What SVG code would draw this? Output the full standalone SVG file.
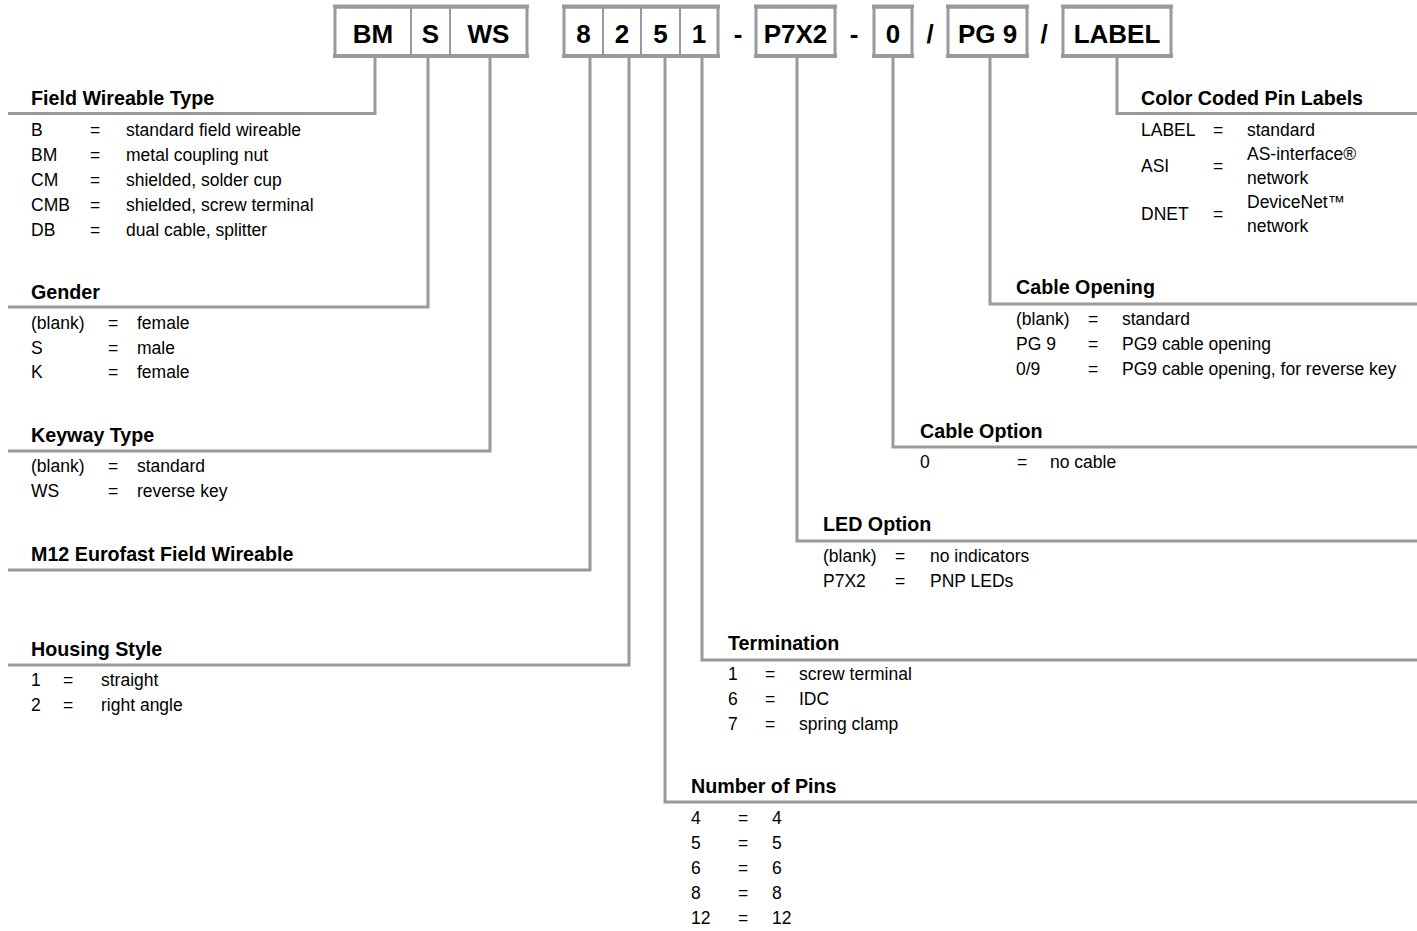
<svg xmlns="http://www.w3.org/2000/svg" width="1417" height="931" viewBox="0 0 1417 931">
<style>
.ln{fill:none;stroke:#9a9a9a;stroke-width:3}
.bx{fill:#fff;stroke:#9a9a9a;stroke-width:3}
.bar{stroke:#9a9a9a;stroke-width:4}
.dv{stroke:#9a9a9a;stroke-width:2}
.bt{font-family:"Liberation Sans",Arial,sans-serif;font-weight:bold;font-size:26px;text-anchor:middle;fill:#000}
.h{font-family:"Liberation Sans",Arial,sans-serif;font-weight:bold;font-size:19.7px;fill:#000}
.t{font-family:"Liberation Sans",Arial,sans-serif;font-size:17.5px;fill:#000}
</style>
<rect width="1417" height="931" fill="#fff"/>
<g id="connectors">
<path class="ln" d="M375 56V113.5H8"/>
<path class="ln" d="M428 56V307H8"/>
<path class="ln" d="M490 56V451H8"/>
<path class="ln" d="M590 56V570H8"/>
<path class="ln" d="M629 56V665H8"/>
<path class="ln" d="M665 56V802H1417"/>
<path class="ln" d="M702 56V660H1417"/>
<path class="ln" d="M797 56V541H1417"/>
<path class="ln" d="M893 56V447H1417"/>
<path class="ln" d="M990 56V304H1417"/>
<path class="ln" d="M1117 56V113.5H1417"/>
</g>
<g id="code">
<g id="box-bmsws">
<rect class="bx" x="335" y="7" width="192" height="49"/>
<line class="bar" x1="333" y1="6.5" x2="529" y2="6.5"/>
<line class="bar" x1="333" y1="56" x2="529" y2="56"/>
<line class="dv" x1="411" y1="7" x2="411" y2="56"/>
<line class="dv" x1="450" y1="7" x2="450" y2="56"/>
<text class="bt" x="373" y="43">BM</text>
<text class="bt" x="430.5" y="43">S</text>
<text class="bt" x="488.5" y="43">WS</text>
</g>
<g id="box-digits">
<rect class="bx" x="564" y="7" width="154" height="49"/>
<line class="bar" x1="562" y1="6.5" x2="720" y2="6.5"/>
<line class="bar" x1="562" y1="56" x2="720" y2="56"/>
<line class="dv" x1="603" y1="7" x2="603" y2="56"/>
<line class="dv" x1="641" y1="7" x2="641" y2="56"/>
<line class="dv" x1="680" y1="7" x2="680" y2="56"/>
<text class="bt" x="583.5" y="43">8</text>
<text class="bt" x="622" y="43">2</text>
<text class="bt" x="660.5" y="43">5</text>
<text class="bt" x="699" y="43">1</text>
</g>
<text class="bt" x="738" y="43">-</text>
<g id="box-p7x2">
<rect class="bx" x="756" y="7" width="79" height="49"/>
<line class="bar" x1="754" y1="6.5" x2="837" y2="6.5"/>
<line class="bar" x1="754" y1="56" x2="837" y2="56"/>
<text class="bt" x="795.5" y="43">P7X2</text>
</g>
<text class="bt" x="854" y="43">-</text>
<g id="box-0">
<rect class="bx" x="874" y="7" width="38" height="49"/>
<line class="bar" x1="872" y1="6.5" x2="914" y2="6.5"/>
<line class="bar" x1="872" y1="56" x2="914" y2="56"/>
<text class="bt" x="893" y="43">0</text>
</g>
<text class="bt" x="930" y="43">/</text>
<g id="box-pg9">
<rect class="bx" x="948" y="7" width="79" height="49"/>
<line class="bar" x1="946" y1="6.5" x2="1029" y2="6.5"/>
<line class="bar" x1="946" y1="56" x2="1029" y2="56"/>
<text class="bt" x="987.5" y="43">PG 9</text>
</g>
<text class="bt" x="1044" y="43">/</text>
<g id="box-label">
<rect class="bx" x="1063" y="7" width="108" height="49"/>
<line class="bar" x1="1061" y1="6.5" x2="1173" y2="6.5"/>
<line class="bar" x1="1061" y1="56" x2="1173" y2="56"/>
<text class="bt" x="1117" y="43">LABEL</text>
</g>
</g>
<g id="field-wireable-type">
<text class="h" x="31" y="105">Field Wireable Type</text>
<text class="t" x="31" y="136">B</text><text class="t" x="90" y="136">=</text><text class="t" x="126" y="136">standard field wireable</text>
<text class="t" x="31" y="161">BM</text><text class="t" x="90" y="161">=</text><text class="t" x="126" y="161">metal coupling nut</text>
<text class="t" x="31" y="186">CM</text><text class="t" x="90" y="186">=</text><text class="t" x="126" y="186">shielded, solder cup</text>
<text class="t" x="31" y="211">CMB</text><text class="t" x="90" y="211">=</text><text class="t" x="126" y="211">shielded, screw terminal</text>
<text class="t" x="31" y="236">DB</text><text class="t" x="90" y="236">=</text><text class="t" x="126" y="236">dual cable, splitter</text>
</g>
<g id="gender">
<text class="h" x="31" y="299">Gender</text>
<text class="t" x="31" y="329">(blank)</text><text class="t" x="108" y="329">=</text><text class="t" x="137" y="329">female</text>
<text class="t" x="31" y="354">S</text><text class="t" x="108" y="354">=</text><text class="t" x="137" y="354">male</text>
<text class="t" x="31" y="378">K</text><text class="t" x="108" y="378">=</text><text class="t" x="137" y="378">female</text>
</g>
<g id="keyway-type">
<text class="h" x="31" y="442">Keyway Type</text>
<text class="t" x="31" y="472">(blank)</text><text class="t" x="108" y="472">=</text><text class="t" x="137" y="472">standard</text>
<text class="t" x="31" y="497">WS</text><text class="t" x="108" y="497">=</text><text class="t" x="137" y="497">reverse key</text>
</g>
<g id="m12">
<text class="h" x="31" y="561">M12 Eurofast Field Wireable</text>
</g>
<g id="housing-style">
<text class="h" x="31" y="656">Housing Style</text>
<text class="t" x="31" y="686">1</text><text class="t" x="63" y="686">=</text><text class="t" x="101" y="686">straight</text>
<text class="t" x="31" y="711">2</text><text class="t" x="63" y="711">=</text><text class="t" x="101" y="711">right angle</text>
</g>
<g id="number-of-pins">
<text class="h" x="691" y="793">Number of Pins</text>
<text class="t" x="691" y="824">4</text><text class="t" x="738" y="824">=</text><text class="t" x="772" y="824">4</text>
<text class="t" x="691" y="849">5</text><text class="t" x="738" y="849">=</text><text class="t" x="772" y="849">5</text>
<text class="t" x="691" y="874">6</text><text class="t" x="738" y="874">=</text><text class="t" x="772" y="874">6</text>
<text class="t" x="691" y="899">8</text><text class="t" x="738" y="899">=</text><text class="t" x="772" y="899">8</text>
<text class="t" x="691" y="924">12</text><text class="t" x="738" y="924">=</text><text class="t" x="772" y="924">12</text>
</g>
<g id="termination">
<text class="h" x="728" y="650">Termination</text>
<text class="t" x="728" y="680">1</text><text class="t" x="765" y="680">=</text><text class="t" x="799" y="680">screw terminal</text>
<text class="t" x="728" y="705">6</text><text class="t" x="765" y="705">=</text><text class="t" x="799" y="705">IDC</text>
<text class="t" x="728" y="730">7</text><text class="t" x="765" y="730">=</text><text class="t" x="799" y="730">spring clamp</text>
</g>
<g id="led-option">
<text class="h" x="823" y="531">LED Option</text>
<text class="t" x="823" y="562">(blank)</text><text class="t" x="895" y="562">=</text><text class="t" x="930" y="562">no indicators</text>
<text class="t" x="823" y="587">P7X2</text><text class="t" x="895" y="587">=</text><text class="t" x="930" y="587">PNP LEDs</text>
</g>
<g id="cable-option">
<text class="h" x="920" y="438">Cable Option</text>
<text class="t" x="920" y="468">0</text><text class="t" x="1017" y="468">=</text><text class="t" x="1050" y="468">no cable</text>
</g>
<g id="cable-opening">
<text class="h" x="1016" y="294">Cable Opening</text>
<text class="t" x="1016" y="325">(blank)</text><text class="t" x="1088" y="325">=</text><text class="t" x="1122" y="325">standard</text>
<text class="t" x="1016" y="350">PG 9</text><text class="t" x="1088" y="350">=</text><text class="t" x="1122" y="350">PG9 cable opening</text>
<text class="t" x="1016" y="375">0/9</text><text class="t" x="1088" y="375">=</text><text class="t" x="1122" y="375">PG9 cable opening, for reverse key</text>
</g>
<g id="color-coded-pin-labels">
<text class="h" x="1141" y="105">Color Coded Pin Labels</text>
<text class="t" x="1141" y="136">LABEL</text><text class="t" x="1213" y="136">=</text><text class="t" x="1247" y="136">standard</text>
<text class="t" x="1141" y="172">ASI</text><text class="t" x="1213" y="172">=</text><text class="t" x="1247" y="160">AS-interface®</text><text class="t" x="1247" y="184">network</text>
<text class="t" x="1141" y="220">DNET</text><text class="t" x="1213" y="220">=</text><text class="t" x="1247" y="208">DeviceNet™</text><text class="t" x="1247" y="232">network</text>
</g>
</svg>
